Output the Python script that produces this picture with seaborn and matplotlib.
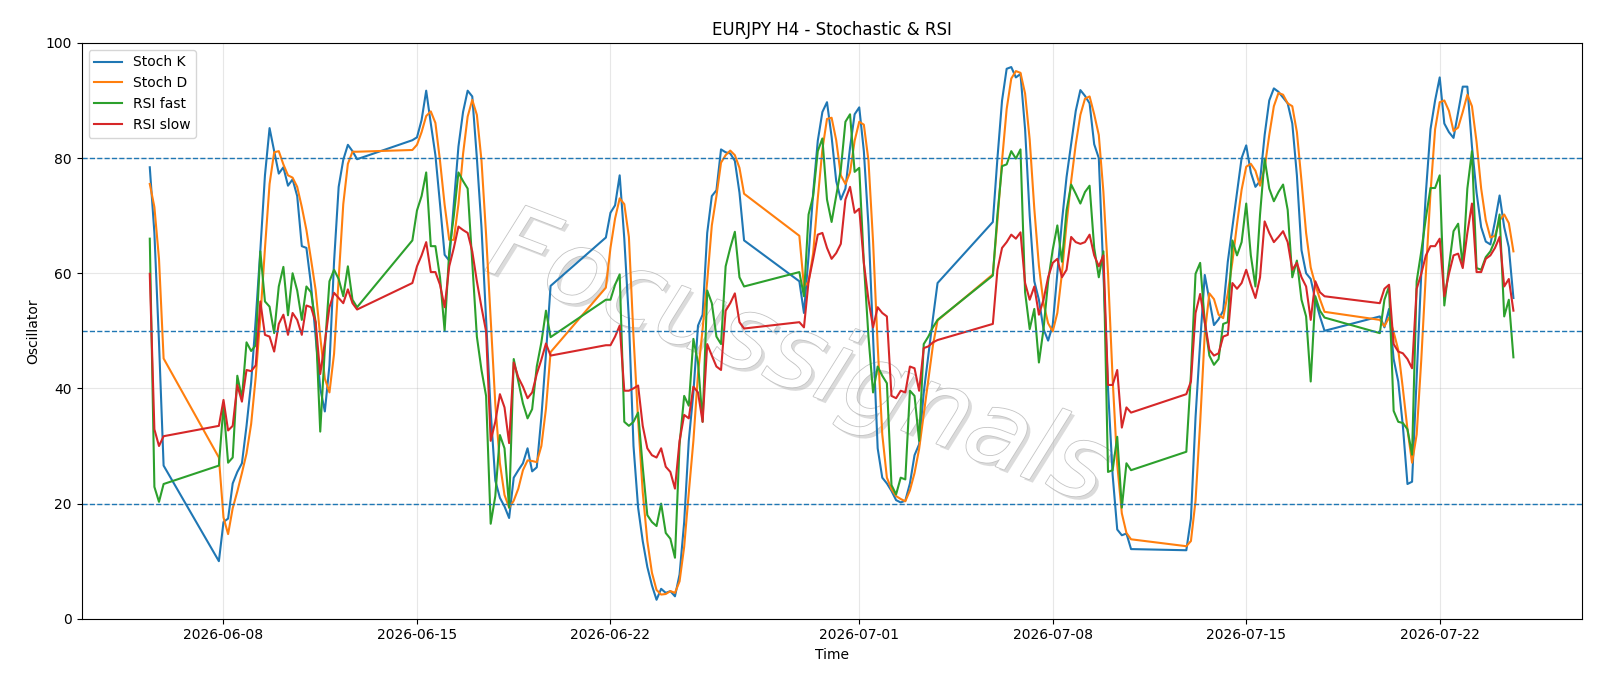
import numpy as np
import pandas as pd
import matplotlib
matplotlib.use('Agg')
import matplotlib.pyplot as plt
import matplotlib.patheffects as pe
import seaborn as sns

# H4 bars: a partial first Friday, then Sunday 20:00 -> Friday 20:00 each week
first_start, first_bars = '2026-06-05 08:00', 4
week_starts = ['2026-06-07 20:00', '2026-06-14 20:00', '2026-06-21 20:00',
               '2026-06-28 20:00', '2026-07-05 20:00', '2026-07-12 20:00',
               '2026-07-19 20:00']
week_bars = [31, 31, 31, 31, 31, 31, 30]

stoch_k = [
    78.4, 67.0, 48.0, 26.6,
    10.0, 16.8, 17.4, 23.5, 25.5, 27.0, 33.5, 41.0, 52.0, 64.0, 77.0, 85.2, 81.2, 77.3, 78.4, 75.2,
    76.3, 73.4, 64.7, 64.4, 58.0, 49.0, 40.0, 36.0, 44.0, 62.0, 75.0, 79.7, 82.3, 81.2, 79.8,
    83.1, 83.6, 86.6, 91.7, 86.0, 80.5, 72.0, 63.2, 62.2, 72.0, 82.0, 88.0, 91.7, 90.7, 80.0, 68.0,
    52.0, 36.0, 24.0, 21.0, 19.5, 17.5, 24.5, 25.8, 27.0, 29.6, 25.6, 26.3, 35.0, 46.0, 57.8,
    66.2, 70.5, 71.8, 77.0, 66.0, 52.0, 30.0, 19.3, 13.5, 9.0, 5.8, 3.3, 5.2, 4.5, 4.8, 3.9,
    7.7, 16.8, 30.9, 39.3, 50.9, 52.8, 67.0, 73.4, 74.4, 81.5, 81.0, 80.8, 79.5, 74.0, 65.7,
    58.6, 53.1, 63.0, 74.0, 83.0, 88.0, 89.7, 83.7, 76.0, 72.8, 74.7, 81.8, 87.6, 88.8, 81.2, 68.3,
    49.0, 29.6, 24.5, 23.5, 22.2, 20.6, 20.2, 20.5, 23.5, 28.4, 30.3, 39.3, 45.7, 52.2, 58.3,
    68.9, 80.0, 90.0, 95.5, 95.8, 94.0, 94.6, 85.0, 70.0, 58.6, 55.4, 50.3, 48.3, 51.0, 60.0, 69.0,
    76.7, 82.4, 88.2, 91.8, 90.8, 89.5, 82.4, 80.0, 60.0, 40.0, 25.0, 15.5, 14.5, 14.8, 12.1,
    11.9, 17.4, 35.0, 48.0, 59.7, 55.4, 51.0, 52.0, 53.5, 62.0, 68.0, 74.0, 80.0, 82.2, 77.5, 75.0,
    76.0, 84.0, 90.0, 92.1, 91.5, 90.5, 89.5, 86.0, 77.0, 64.0, 60.0, 59.0, 55.4, 52.5, 50.0,
    52.5, 50.6, 53.8, 45.1, 41.2, 33.5, 23.4, 23.8, 42.0, 60.0, 74.0, 85.0, 90.0, 94.0, 86.0,
    84.5, 83.5, 88.0, 92.4, 92.4, 82.0, 74.0, 68.0, 65.5, 65.0, 69.0, 73.5, 68.0, 64.5, 55.7,
]
stoch_d = [
    75.5, 71.5, 62.5, 45.2,
    28.0, 17.6, 14.7, 19.2, 22.1, 25.3, 28.7, 33.8, 42.0, 52.3, 64.3, 75.5, 81.0, 81.2, 78.9, 77.0,
    76.6, 75.0, 71.5, 67.5, 62.4, 57.1, 49.0, 41.7, 39.3, 46.0, 59.0, 72.0, 79.0, 81.1, 81.1,
    81.4, 82.3, 84.5, 87.3, 88.1, 86.1, 79.5, 71.9, 65.8, 65.8, 72.0, 80.7, 87.2, 90.1, 87.5, 79.6,
    66.7, 52.0, 37.3, 27.0, 21.5, 19.3, 20.5, 22.6, 25.8, 27.5, 27.4, 27.2, 30.0, 36.5, 46.3,
    57.5, 64.4, 69.5, 73.0, 72.0, 66.3, 49.0, 34.5, 22.0, 13.5, 8.0, 5.0, 4.2, 4.3, 4.8, 4.5,
    6.5, 12.5, 21.9, 30.9, 42.5, 50.3, 58.6, 68.3, 73.4, 79.2, 80.5, 81.3, 80.5, 78.3, 73.8,
    66.5, 57.7, 58.5, 63.5, 73.0, 81.5, 86.8, 87.0, 83.1, 77.0, 75.5, 77.5, 83.0, 86.3, 85.8, 79.6,
    65.5, 47.5, 32.0, 24.5, 22.5, 21.3, 20.8, 20.4, 22.3, 25.3, 29.5, 35.5, 41.5, 47.5, 51.8,
    59.8, 69.1, 79.6, 88.5, 93.8, 95.1, 94.8, 91.2, 83.2, 71.2, 61.3, 54.8, 51.3, 49.9, 53.1, 60.0,
    68.6, 76.0, 82.4, 87.5, 90.3, 90.7, 87.6, 84.0, 74.1, 60.0, 41.7, 26.8, 18.3, 14.9, 13.8,
    12.6, 13.5, 20.5, 34.0, 49.5, 56.5, 55.5, 52.8, 52.2, 56.5, 62.0, 68.5, 74.5, 78.5, 79.0, 77.8,
    75.2, 78.3, 84.0, 89.0, 91.3, 91.0, 89.5, 89.0, 84.5, 76.0, 67.0, 61.0, 58.0, 55.5, 53.3,
    51.9, 50.8, 52.3, 49.8, 46.7, 40.0, 32.9, 27.1, 32.0, 45.0, 60.0, 74.0, 85.0, 89.7, 90.0,
    88.2, 84.7, 85.3, 88.0, 91.0, 89.0, 82.8, 74.7, 69.2, 66.2, 66.5, 69.2, 70.2, 68.7, 63.8,
]
rsi_fast = [
    66.0, 22.9, 20.3, 23.4,
    26.6, 37.0, 27.1, 28.0, 42.2, 38.3, 48.0, 46.5, 47.5, 63.8, 55.1, 54.2, 49.6, 57.7, 61.1, 52.7,
    60.0, 57.0, 51.9, 57.7, 56.7, 51.5, 32.5, 47.0, 58.6, 60.6, 59.0, 56.0, 61.2, 55.4, 54.1,
    65.7, 70.9, 73.4, 77.5, 64.7, 64.7, 59.3, 50.0, 63.8, 70.0, 77.5, 76.0, 74.7, 62.0, 49.0, 43.2,
    38.7, 16.5, 21.3, 31.9, 29.6, 19.3, 45.1, 41.2, 37.4, 34.8, 36.4, 43.8, 48.0, 53.5, 48.9,
    55.4, 55.4, 58.0, 59.8, 34.2, 33.5, 34.2, 35.8, 26.4, 18.0, 16.8, 16.1, 20.0, 14.9, 13.9, 10.6,
    30.3, 38.7, 37.0, 48.6, 44.5, 34.2, 57.0, 54.8, 49.0, 47.7, 61.2, 64.4, 67.2, 59.3, 57.7,
    60.2, 56.0, 70.2, 73.4, 81.2, 83.4, 72.8, 68.9, 73.4, 78.0, 86.3, 87.6, 77.6, 78.3, 61.8, 49.0,
    39.3, 43.8, 42.2, 40.9, 23.2, 21.6, 24.5, 24.2, 39.6, 38.7, 30.9, 47.7, 49.0, 50.6, 51.9,
    59.6, 70.2, 78.6, 78.9, 81.2, 79.9, 81.5, 56.7, 50.3, 53.8, 44.5, 50.3, 58.6, 64.1, 68.3, 62.0,
    70.9, 75.4, 73.8, 72.1, 74.1, 75.2, 64.4, 59.3, 63.8, 25.5, 25.8, 31.6, 19.3, 27.0, 25.8,
    29.0, 42.5, 59.9, 61.8, 51.5, 45.7, 44.1, 45.1, 51.2, 51.5, 65.7, 63.1, 65.4, 72.1, 63.1, 57.7,
    70.2, 79.9, 74.7, 72.5, 74.1, 75.4, 71.0, 59.3, 62.2, 55.4, 52.5, 41.2, 56.0, 53.5, 52.3,
    49.6, 55.4, 57.7, 36.1, 34.2, 34.0, 32.9, 28.5, 58.6, 63.8, 69.6, 74.8, 74.8, 77.0, 54.4,
    61.2, 67.3, 68.6, 61.2, 74.7, 81.2, 60.9, 60.6, 62.8, 63.8, 65.7, 70.2, 52.5, 55.4, 45.4,
]
rsi_slow = [
    59.9, 32.9, 30.0, 31.7,
    33.5, 38.0, 32.7, 33.5, 40.6, 37.7, 43.2, 43.0, 44.0, 55.1, 49.3, 49.0, 46.4, 51.2, 52.8, 49.3,
    53.1, 51.9, 49.3, 54.4, 54.1, 51.5, 42.5, 48.0, 54.1, 56.6, 55.7, 54.8, 57.2, 54.8, 53.7,
    58.3, 61.2, 63.1, 65.4, 60.2, 60.2, 58.0, 54.1, 61.2, 64.4, 68.1, 67.5, 67.0, 63.8, 58.6, 54.1,
    49.9, 30.9, 34.2, 39.0, 36.7, 30.5, 44.5, 41.9, 40.3, 38.3, 39.3, 42.5, 45.0, 47.8, 45.7,
    47.5, 47.5, 49.0, 50.9, 39.6, 39.6, 40.0, 40.5, 33.5, 29.6, 28.4, 28.0, 29.6, 26.4, 25.5, 22.6,
    30.9, 35.4, 34.8, 40.3, 39.3, 34.2, 47.7, 45.7, 43.8, 43.2, 53.5, 54.8, 56.5, 51.5, 50.4,
    51.5, 50.6, 58.6, 62.5, 66.7, 67.0, 64.4, 62.5, 63.5, 65.1, 72.8, 75.0, 70.5, 71.2, 61.8, 55.4,
    50.6, 54.1, 53.1, 52.5, 38.7, 38.3, 39.6, 39.3, 43.8, 43.5, 39.6, 47.0, 47.3, 48.0, 48.4,
    51.2, 60.6, 64.4, 65.4, 66.7, 66.0, 67.1, 58.3, 55.4, 57.7, 52.8, 55.4, 59.3, 61.8, 62.5, 59.3,
    60.6, 66.3, 65.4, 65.1, 65.4, 66.7, 63.1, 61.2, 63.1, 40.6, 40.6, 43.2, 33.2, 36.7, 35.8,
    39.0, 41.2, 53.1, 56.4, 51.5, 46.7, 45.7, 46.1, 49.0, 49.3, 58.3, 57.3, 58.3, 60.6, 58.0, 55.7,
    59.3, 69.0, 67.0, 65.4, 66.3, 67.3, 65.4, 60.6, 61.8, 59.3, 57.7, 51.9, 58.6, 56.7, 56.0,
    54.8, 57.3, 58.0, 47.7, 46.4, 46.1, 45.1, 43.5, 57.3, 59.9, 63.1, 64.7, 64.7, 66.0, 56.0,
    59.9, 63.1, 63.4, 60.9, 67.0, 72.1, 60.2, 60.2, 62.5, 63.1, 64.4, 66.3, 57.7, 59.0, 53.5,
]

series_names = ['Stoch K', 'Stoch D', 'RSI fast', 'RSI slow']
levels = [80, 50, 20]

times = pd.date_range(first_start, periods=first_bars, freq='4h')
for start, n in zip(week_starts, week_bars):
    times = times.append(pd.date_range(start, periods=n, freq='4h'))

df = pd.DataFrame({'time': times, 'Stoch K': stoch_k, 'Stoch D': stoch_d,
                   'RSI fast': rsi_fast, 'RSI slow': rsi_slow})

fig, ax = plt.subplots(figsize=(16, 6.86), dpi=100)
for i, name in enumerate(series_names):
    sns.lineplot(data=df, x='time', y=name, ax=ax, label=name, color=f'C{i}', linewidth=1.5)

for lv in levels:
    ax.axhline(lv, color='C0', linestyle='--', linewidth=1)

ax.set_ylim(0, 100)
ax.grid(True, alpha=0.3)
ax.set_title('EURJPY H4 - Stochastic & RSI')
ax.set_xlabel('Time')
ax.set_ylabel('Oscillator')
ax.legend(loc='upper left')

# watermark, drawn under the lines
ax.text(0.478, 0.45, 'Focussignals', transform=ax.transAxes, fontsize=74,
        style='italic', rotation=-21, ha='center', va='center', color='white',
        zorder=1.5,
        path_effects=[pe.SimplePatchShadow(offset=(2.5, -2.5), shadow_rgbFace='#9a9a9a', alpha=0.35),
                      pe.Stroke(linewidth=1.2, foreground='#c4c4c4'), pe.Normal()])

fig.subplots_adjust(left=0.051, right=0.9885, top=0.9375, bottom=0.098)
fig.savefig('out.png', dpi=100)
